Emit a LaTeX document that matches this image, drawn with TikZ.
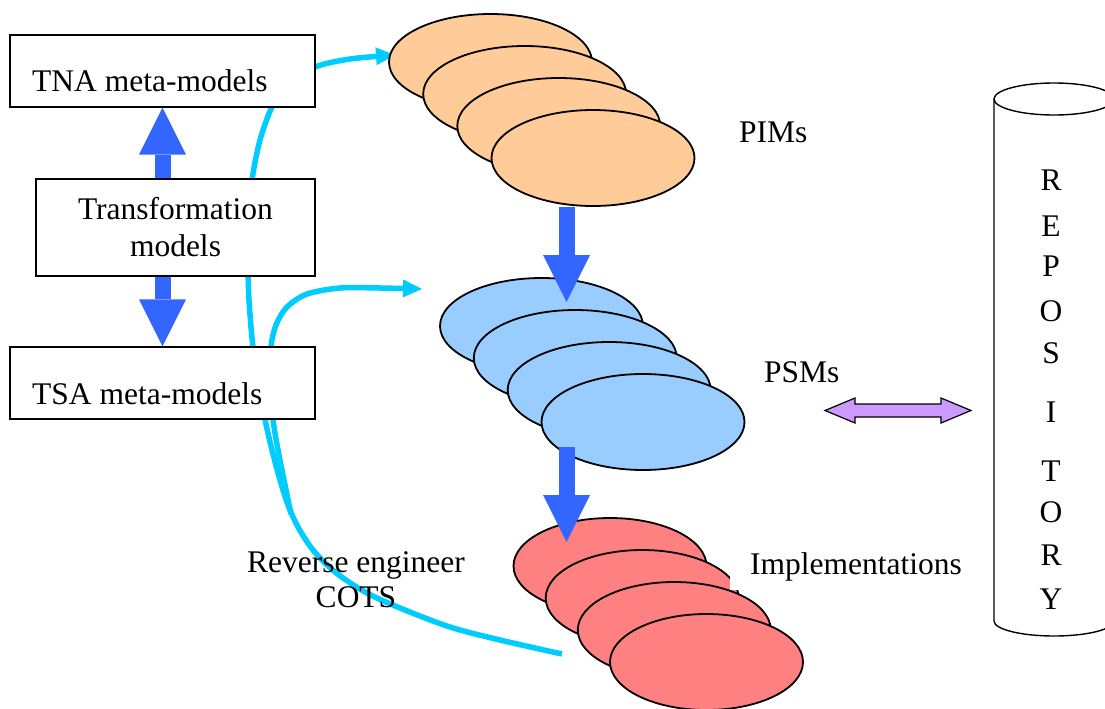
\documentclass[tikz,border=0pt]{standalone}
\usepackage{fontspec}
\setmainfont{Liberation Serif}
\usetikzlibrary{arrows.meta,shapes.geometric}
\definecolor{pimfill}{RGB}{255,204,153}
\definecolor{psmfill}{RGB}{153,204,255}
\definecolor{implfill}{RGB}{255,128,128}
\definecolor{flowblue}{RGB}{51,102,255}
\definecolor{revcyan}{RGB}{0,204,255}
\definecolor{repolilac}{RGB}{204,153,255}
\newcommand\lblfont{\fontsize{31.5}{37}\selectfont}

\begin{document}
\begin{tikzpicture}[x=1pt,y=-1pt,
  every node/.style={font=\lblfont, inner sep=0pt},
  modelbox/.style={draw=black, line width=1.4pt, fill=white, inner sep=0pt},
  model/.style={ellipse, draw=black, line width=1.8pt, inner sep=0pt,
                minimum width=203pt, minimum height=96pt},
  pim/.style={model, fill=pimfill},
  psm/.style={model, fill=psmfill},
  impl/.style={model, fill=implfill, minimum width=193pt},
  flow/.style={draw=flowblue, line width=16pt,
               -{Triangle[length=47pt,width=47pt,line width=0pt]}},
  revline/.style={draw=revcyan, line width=5.5pt, line cap=butt},
  revtip/.style={-{Triangle[length=19pt,width=18pt,line width=0pt]}},
  cyl/.style={draw=black, line width=1.4pt}
]
\useasboundingbox (0,0) rectangle (1105,709);

% reverse-engineering feedback curves (drawn first, boxes sit on top)
\coordinate (cotsEnd) at (562,654);
\coordinate (fork) at (291,514);
\coordinate (pimEntry) at (395,55);
\coordinate (psmEntry) at (422,289);
\draw[revline, revtip] plot[smooth, tension=0.5] coordinates {
  (cotsEnd) (500,640) (450,627) (400,608) (365,592) (335,572) (313,550)
  (298,527) (288,505) (280,480) (272,450) (265,419) (259,380) (253,347)
  (249,300) (248,260) (249,220) (252,180) (260,140) (272,107) (288,84)
  (315,67) (350,59) (pimEntry)};
\draw[revline, revtip] plot[smooth, tension=0.5] coordinates {
  (fork) (284,480) (278,450) (273,419) (271,380) (271,347) (276,325)
  (287,307) (307,294) (340,288) (380,288) (psmEntry)};

% platform independent models
\node[pim] (pim1) at (490.5,62) {};
\node[pim] (pim2) at (524.7,94) {};
\node[pim] (pim3) at (558.8,126) {};
\node[pim] (pim4) at (593,158) {};

% platform specific models
\node[psm] (psm1) at (541.5,326) {};
\node[psm] (psm2) at (575.3,358) {};
\node[psm] (psm3) at (609.2,390) {};
\node[psm] (psm4) at (643,422) {};

% implementations
\node[impl] (imp1) at (610,566) {};
\node[impl] (imp2) at (642.2,598) {};
\node[anchor=base west, fill=white, inner xsep=20pt, inner ysep=9pt]
  (implLabel) at (730,574) {Implementations};
\node[impl] (imp3) at (674.3,630) {};
\node[impl] (imp4) at (706.5,662) {};

% meta-model boxes
\node[modelbox, minimum width=305pt, minimum height=72pt] (tna) at (162.5,71) {};
\node[modelbox, minimum width=279pt, minimum height=97pt, align=center]
  (trans) at (175.5,227.5) {Transformation\\models};
\node[modelbox, minimum width=305pt, minimum height=72pt] (tsa) at (162.5,383) {};
\node[anchor=base west] (tnaText) at (32,92) {TNA meta-models};
\node[anchor=base west] (tsaText) at (32,404) {TSA meta-models};

% transformation flow
\draw[flow] (trans.north -| tna.south) -- (tna.south);
\draw[flow] (trans.south -| tsa.north) -- (tsa.north);
\coordinate (pimDrop) at (566.5,207);
\coordinate (psmLand) at (566.5,302);
\coordinate (psmDrop) at (566.5,447);
\coordinate (implLand) at (566.5,542);
\draw[flow] (pimDrop) -- (psmLand);
\draw[flow] (psmDrop) -- (implLand);

% model labels
\node[anchor=base west] (pimLabel) at (739,142) {PIMs};
\node[anchor=base west] (psmLabel) at (764,382) {PSMs};
\node[anchor=base] (revLabelA) at (356,572) {Reverse engineer};
\node[anchor=base] (revLabelB) at (356,607) {COTS};

% repository cylinder
\fill[white] (994,99) -- (994,621) arc[start angle=180, end angle=360, x radius=60pt, y radius=15pt]
  -- (1114,99) -- cycle;
\draw[cyl] (994,99) -- (994,621) arc[start angle=180, end angle=360, x radius=60pt, y radius=15pt]
  -- (1114,99);
\draw[cyl, fill=white] (1054,99) ellipse[x radius=60pt, y radius=16pt];
\coordinate (repo) at (994,410.5);
\foreach \ch/\yb [count=\i] in {R/190, E/236, P/276, O/321, S/363, I/422, T/481, O/522, R/565, Y/609}
  \node[anchor=base] (repo\i) at (1051,\yb) {\ch};

% exchange between models and repository
\coordinate (xchgL) at (825,410.5);
\coordinate (xchgR) at (971,410.5);
\draw[black, line width=1.2pt, fill=repolilac]
  (xchgL) -- (855,398) -- (855,404) -- (941,404) -- (941,398) -- (xchgR)
  -- (941,423) -- (941,417) -- (855,417) -- (855,423) -- cycle;
\end{tikzpicture}
\end{document}
